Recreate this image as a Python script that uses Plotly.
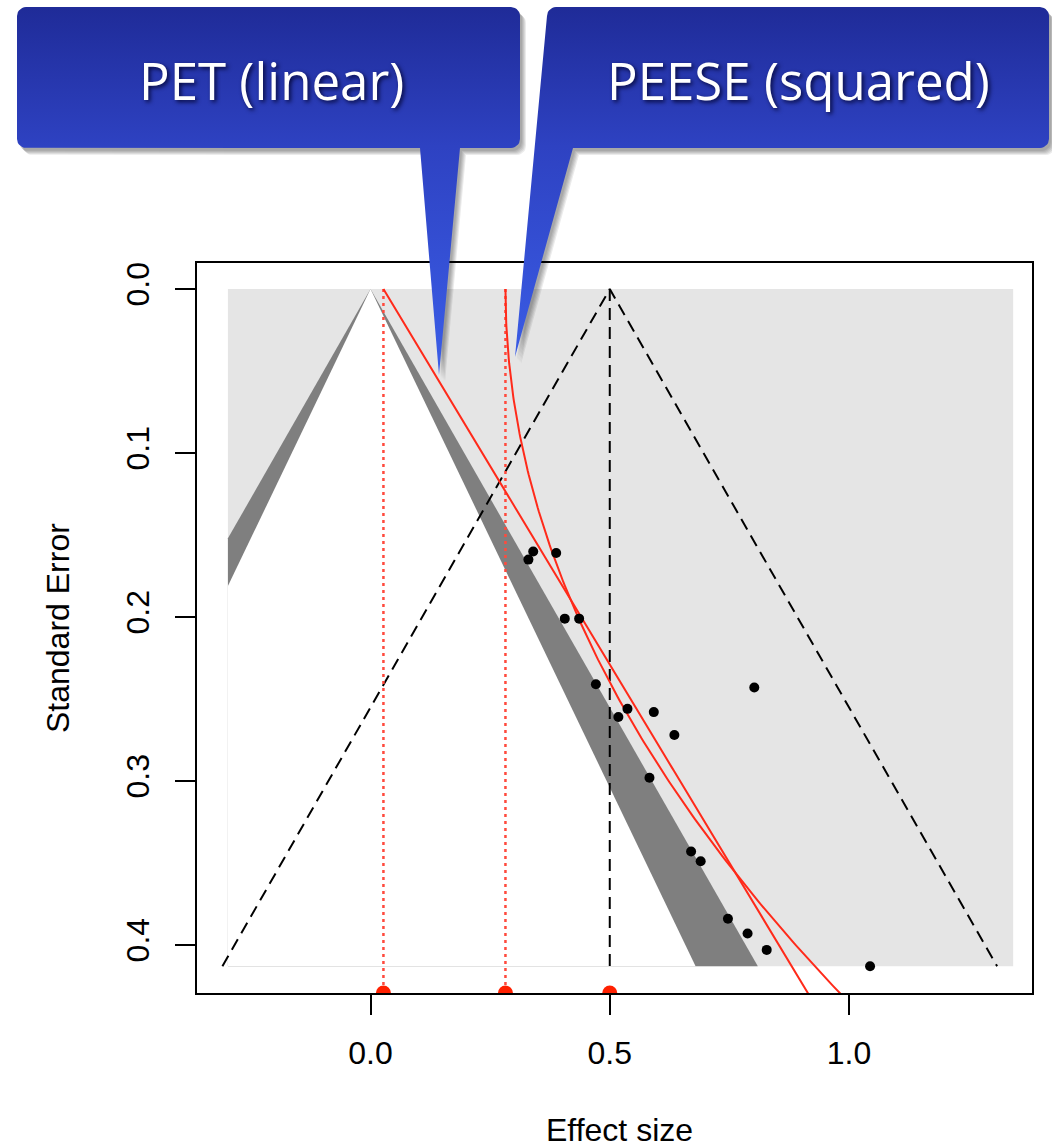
import numpy as np
import plotly.graph_objects as go

W, H = 1052, 1148

# Study-level estimates: effect size and its standard error
effect = [0.340, 0.330, 0.388, 0.406, 0.436, 0.471, 0.537, 0.518, 0.592,
          0.802, 0.635, 0.583, 0.670, 0.690, 0.747, 0.788, 0.828, 1.044]
std_err = [0.160, 0.165, 0.161, 0.201, 0.201, 0.241, 0.256, 0.261, 0.258,
           0.243, 0.272, 0.298, 0.343, 0.349, 0.384, 0.393, 0.403, 0.413]

# Meta-regression fits
pet_intercept, pet_slope = 0.027, 2.066        # effect ~ SE
peese_intercept, peese_slope = 0.282, 3.79     # effect ~ SE^2
true_effect = 0.5

# Significance contours (two-sided p = .10 and .05)
z_levels = [1.96, 1.645]
contour_colors = ["#7f7f7f", "#ffffff"]
contour_xlim = [-0.298, 1.343]

x_ticks = [0.0, 0.5, 1.0]
x_tick_labels = ["0.0", "0.5", "1.0"]
y_ticks = [0.0, 0.1, 0.2, 0.3, 0.4]
y_tick_labels = ["0.0", "0.1", "0.2", "0.3", "0.4"]

callout_labels = ["PET (linear)", "PEESE (squared)"]

# plot frame in pixels
PL, PR, PT, PB = 197, 1032, 263, 993
x_range = [-0.3626, 1.3824]
y_range = [0.4293, -0.0159]

se_max = max(std_err)


def clip_half(poly, bound, lower):
    """Sutherland-Hodgman clip of a polygon against a vertical half-plane."""
    keep = (lambda p: p[0] >= bound) if lower else (lambda p: p[0] <= bound)
    out = []
    n = len(poly)
    for i in range(n):
        a, b = poly[i], poly[(i + 1) % n]
        ka, kb = keep(a), keep(b)
        if ka:
            out.append(a)
        if ka != kb:
            t = (bound - a[0]) / (b[0] - a[0])
            out.append((bound, a[1] + t * (b[1] - a[1])))
    return out


def funnel_poly(z):
    tri = [(0.0, 0.0), (z * se_max, se_max), (-z * se_max, se_max)]
    tri = clip_half(tri, contour_xlim[0], True)
    tri = clip_half(tri, contour_xlim[1], False)
    return tri


fig = go.Figure()

# light background of the contour region
fig.add_trace(go.Scatter(
    x=[contour_xlim[0], contour_xlim[1], contour_xlim[1], contour_xlim[0]],
    y=[0, 0, se_max, se_max], fill="toself", fillcolor="#e5e5e5",
    mode="lines", line=dict(width=0), hoverinfo="skip"))

for z, col in zip(z_levels, contour_colors):
    poly = funnel_poly(z)
    fig.add_trace(go.Scatter(
        x=[p[0] for p in poly], y=[p[1] for p in poly], fill="toself",
        fillcolor=col, mode="lines", line=dict(width=0), hoverinfo="skip"))

# pseudo-confidence funnel around the true effect
dash = "12px,7px"
fig.add_trace(go.Scatter(
    x=[true_effect - 1.96 * se_max, true_effect, true_effect + 1.96 * se_max],
    y=[se_max, 0, se_max], mode="lines",
    line=dict(color="black", width=2, dash=dash), hoverinfo="skip"))
fig.add_trace(go.Scatter(
    x=[true_effect, true_effect], y=[0, se_max], mode="lines",
    line=dict(color="black", width=2, dash=dash), hoverinfo="skip"))

# intercept markers as dotted verticals
for x0 in [pet_intercept, peese_intercept]:
    fig.add_trace(go.Scatter(
        x=[x0, x0], y=[0, y_range[0]], mode="lines",
        line=dict(color="#ff4a3d", width=2.5, dash="3px,4px"), hoverinfo="skip"))

# fitted PET line and PEESE curve
se_grid = np.linspace(0, 0.45, 200)
fig.add_trace(go.Scatter(
    x=pet_intercept + pet_slope * se_grid, y=se_grid, mode="lines",
    line=dict(color="#ff2a1a", width=2), hoverinfo="skip"))
fig.add_trace(go.Scatter(
    x=peese_intercept + peese_slope * se_grid ** 2, y=se_grid, mode="lines",
    line=dict(color="#ff2a1a", width=2), hoverinfo="skip"))

# studies
fig.add_trace(go.Scatter(
    x=effect, y=std_err, mode="markers",
    marker=dict(color="black", size=10), hoverinfo="skip"))

# estimates on the axis
fig.add_trace(go.Scatter(
    x=[pet_intercept, peese_intercept, true_effect], y=[y_range[0]] * 3,
    mode="markers", marker=dict(color="#ff2000", size=15), hoverinfo="skip"))


# ---- speech-bubble callouts drawn in pixel space ----
def arc(cx, cy, r, a0, a1, n=8):
    t = np.radians(np.linspace(a0, a1, n))
    return [(cx + r * np.cos(a), cy + r * np.sin(a)) for a in t]


r = 9
bubble1 = (arc(17 + r, 7 + r, r, 180, 270) + arc(520 - r, 7 + r, r, 270, 360)
           + arc(520 - r, 148 - r, r, 0, 90)
           + [(460, 148), (439, 375), (420, 148)]
           + arc(17 + r, 148 - r, r, 90, 180))
bubble2 = (arc(547 + r, 7 + r, r, 180, 270) + arc(1049 - r, 7 + r, r, 270, 360)
           + arc(1049 - r, 148 - r, r, 0, 90)
           + [(573, 148), (515, 357)])

blue_scale = [[0, "#1f2b98"], [0.38, "#2e42c2"], [1, "#3b5ee8"]]

for poly in [bubble1, bubble2]:
    px = [p[0] for p in poly] + [poly[0][0]]
    py = [p[1] for p in poly] + [poly[0][1]]
    for k in range(5):
        dx, dy = 2 + k, 3 + k
        fig.add_trace(go.Scatter(
            x=[v + dx for v in px], y=[v + dy for v in py], xaxis="x2", yaxis="y2",
            fill="toself", fillcolor="rgba(0,0,0,0.08)", mode="lines",
            line=dict(width=0), hoverinfo="skip"))

for poly in [bubble1, bubble2]:
    px = [p[0] for p in poly] + [poly[0][0]]
    py = [p[1] for p in poly] + [poly[0][1]]
    fig.add_trace(go.Scatter(
        x=px, y=py, xaxis="x2", yaxis="y2", fill="toself",
        fillgradient=dict(type="vertical", colorscale=blue_scale, start=7, stop=375),
        mode="lines", line=dict(width=0), hoverinfo="skip"))

label_font = dict(family="Open Sans, Lato, sans-serif", size=51, color="white",
                  weight=400, shadow="2px 2px 4px rgba(0,0,40,0.85)")
axis_font = dict(family="Liberation Sans, Arial, sans-serif", size=32, color="black")
annotations = [
    dict(x=271, y=80, xref="x2", yref="y2", text=callout_labels[0],
         showarrow=False, font=label_font, xanchor="center", yanchor="middle"),
    dict(x=798, y=80, xref="x2", yref="y2", text=callout_labels[1],
         showarrow=False, font=label_font, xanchor="center", yanchor="middle"),
    dict(x=619, y=1130, xref="x2", yref="y2", text="Effect size", showarrow=False,
         font=axis_font, xanchor="center", yanchor="middle"),
    dict(x=58, y=628, xref="x2", yref="y2", text="Standard Error", showarrow=False,
         textangle=-90, font=axis_font, xanchor="center", yanchor="middle"),
]

fig.update_layout(
    width=W, height=H, margin=dict(l=0, r=0, t=0, b=0),
    paper_bgcolor="white", plot_bgcolor="rgba(0,0,0,0)", showlegend=False,
    xaxis=dict(domain=[PL / W, PR / W], range=x_range, showgrid=False, zeroline=False,
               showline=True, mirror=True, linecolor="black", linewidth=1.5,
               ticks="outside", ticklen=20, tickwidth=1.5, tickcolor="black",
               tickvals=x_ticks, ticktext=x_tick_labels, tickfont=axis_font,
               ticklabelstandoff=11, automargin=False, fixedrange=True),
    yaxis=dict(domain=[1 - PB / H, 1 - PT / H], range=y_range, showgrid=False,
               zeroline=False, showline=True, mirror=True, linecolor="black",
               linewidth=1.5, ticks="outside", ticklen=20, tickwidth=1.5,
               tickcolor="black", tickvals=y_ticks, ticktext=y_tick_labels,
               tickfont=axis_font, tickangle=-90, ticklabelstandoff=13,
               automargin=False, fixedrange=True),
    xaxis2=dict(domain=[0, 1], range=[0, W], visible=False, fixedrange=True),
    yaxis2=dict(domain=[0, 1], range=[H, 0], visible=False, fixedrange=True),
    annotations=annotations,
)

fig.write_html("out.html")
